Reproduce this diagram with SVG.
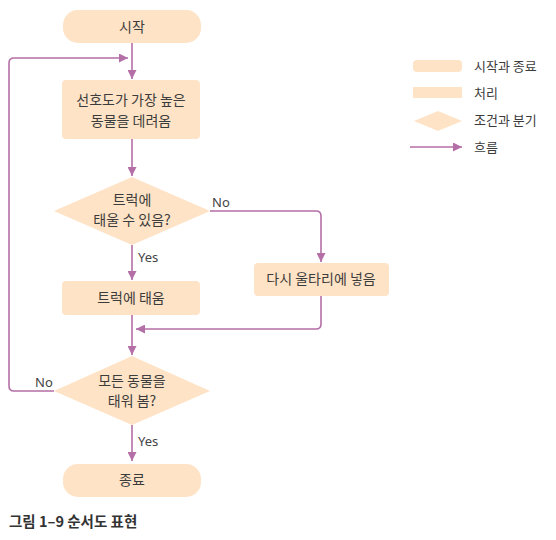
<svg xmlns="http://www.w3.org/2000/svg" width="556" height="540" viewBox="0 0 556 540">
  <style>
    .shape { fill: #FEE3C6; }
    .flow { fill: none; stroke: #B46FA7; stroke-width: 1.6; }
    .t { font-family: "Noto Sans CJK KR", "Noto Sans", sans-serif; font-size: 14px; fill: #3c3c3c; text-anchor: middle; }
    .lbl { font-family: "Noto Sans", "Liberation Sans", sans-serif; font-size: 13px; fill: #444; }
    .leg { font-family: "Noto Sans CJK KR", sans-serif; font-size: 13px; fill: #3c3c3c; }
    .cap { font-family: "Noto Sans CJK KR", sans-serif; font-size: 14.5px; font-weight: bold; fill: #333; }
  </style>
  <defs>
    <marker id="arrow" viewBox="0 0 10 10" refX="10" refY="5" markerWidth="9" markerHeight="9" markerUnits="userSpaceOnUse" orient="auto">
      <path d="M0,0 L10,5 L0,10 Z" fill="#B46FA7"/>
    </marker>
  </defs>

  <rect width="556" height="540" fill="#ffffff"/>

  <!-- connectors -->
  <g id="connectors">
    <path class="flow" d="M132,43 V79" marker-end="url(#arrow)"/>
    <path class="flow" d="M54,391 H14 Q9,391 9,386 V63 Q9,58 14,58 H128" marker-end="url(#arrow)"/>
    <path class="flow" d="M132,139 V176" marker-end="url(#arrow)"/>
    <path class="flow" d="M210,211 H316 Q321,211 321,216 V262" marker-end="url(#arrow)"/>
    <path class="flow" d="M132,245 V280" marker-end="url(#arrow)"/>
    <path class="flow" d="M321,296 V324 Q321,329 316,329 H136" marker-end="url(#arrow)"/>
    <path class="flow" d="M132,315 V355" marker-end="url(#arrow)"/>
    <path class="flow" d="M132,425 V461" marker-end="url(#arrow)"/>
    <text class="lbl" x="212" y="207">No</text>
    <text class="lbl" x="138" y="262">Yes</text>
    <text class="lbl" x="35" y="387">No</text>
    <text class="lbl" x="138" y="446">Yes</text>
  </g>

  <g id="start">
    <rect class="shape" x="63" y="10" width="138" height="33" rx="15"/>
    <text class="t" x="132" y="32">시작</text>
  </g>

  <g id="bring-animal">
    <rect class="shape" x="62" y="80" width="138" height="59" rx="4"/>
    <text class="t" x="131" y="105">선호도가 가장 높은</text>
    <text class="t" x="131" y="126">동물을 데려옴</text>
  </g>

  <g id="can-load">
    <polygon class="shape" points="132,177 210,211 132,245 54,211"/>
    <text class="t" x="132" y="205">트럭에</text>
    <text class="t" x="132" y="225">태울 수 있음?</text>
  </g>

  <g id="load-truck">
    <rect class="shape" x="62" y="281" width="138" height="34" rx="4"/>
    <text class="t" x="131" y="303">트럭에 태움</text>
  </g>

  <g id="back-to-pen">
    <rect class="shape" x="254" y="263" width="135" height="33" rx="4"/>
    <text class="t" x="321" y="284">다시 울타리에 넣음</text>
  </g>

  <g id="all-loaded">
    <polygon class="shape" points="132,356 210,391 132,425 54,391"/>
    <text class="t" x="132" y="386">모든 동물을</text>
    <text class="t" x="132" y="406">태워 봄?</text>
  </g>

  <g id="end">
    <rect class="shape" x="63" y="464" width="138" height="33" rx="15"/>
    <text class="t" x="132" y="485">종료</text>
  </g>

  <!-- legend -->
  <g id="legend">
    <rect class="shape" x="413" y="60" width="49" height="12" rx="4"/>
    <text class="leg" x="474" y="71">시작과 종료</text>
    <rect class="shape" x="413" y="87" width="49" height="11"/>
    <text class="leg" x="474" y="98">처리</text>
    <polygon class="shape" points="438,111 462,121 438,131 414,121"/>
    <text class="leg" x="474" y="125">조건과 분기</text>
    <path class="flow" d="M410,147 H462" marker-end="url(#arrow)"/>
    <text class="leg" x="474" y="152">흐름</text>
  </g>

  <text class="cap" x="9" y="527">그림 1–9 순서도 표현</text>
</svg>
